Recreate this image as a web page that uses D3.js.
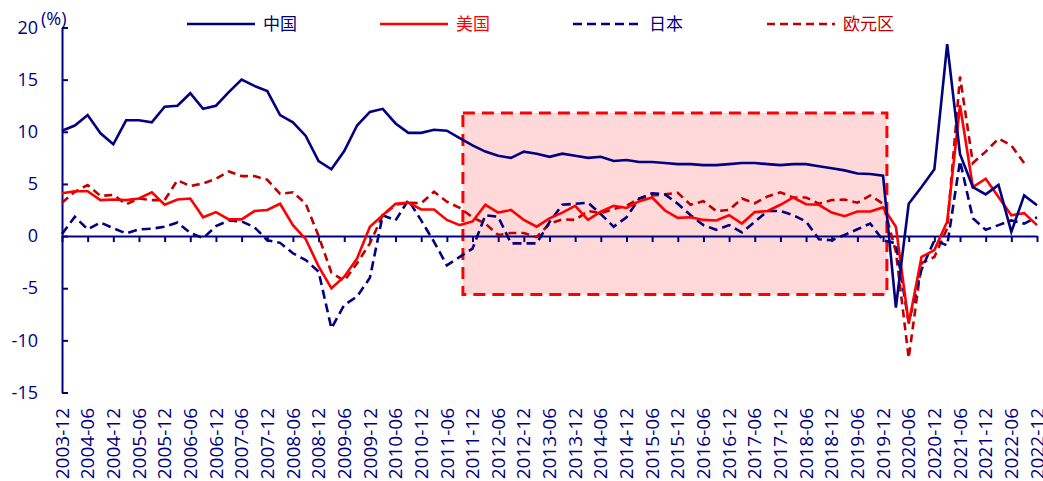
<!DOCTYPE html>
<html lang="zh-CN">
<head>
    <meta charset="utf-8">
    <title>GDP同比</title>
    <script src="https://d3js.org/d3.v7.min.js" charset="utf-8"></script>
    <style type="text/css">
        body {
            margin: 0;
            background-color: #fff;
        }
        text {
            font-family: "Open Sans", "Noto Sans CJK SC", sans-serif;
        }
    </style>
</head>
<body>
    <script type="text/javascript">
        // quarterly data, 2003-12 .. 2022-12
        var quarters = [
            "2003-12",
            "2004-03", "2004-06", "2004-09", "2004-12",
            "2005-03", "2005-06", "2005-09", "2005-12",
            "2006-03", "2006-06", "2006-09", "2006-12",
            "2007-03", "2007-06", "2007-09", "2007-12",
            "2008-03", "2008-06", "2008-09", "2008-12",
            "2009-03", "2009-06", "2009-09", "2009-12",
            "2010-03", "2010-06", "2010-09", "2010-12",
            "2011-03", "2011-06", "2011-09", "2011-12",
            "2012-03", "2012-06", "2012-09", "2012-12",
            "2013-03", "2013-06", "2013-09", "2013-12",
            "2014-03", "2014-06", "2014-09", "2014-12",
            "2015-03", "2015-06", "2015-09", "2015-12",
            "2016-03", "2016-06", "2016-09", "2016-12",
            "2017-03", "2017-06", "2017-09", "2017-12",
            "2018-03", "2018-06", "2018-09", "2018-12",
            "2019-03", "2019-06", "2019-09", "2019-12",
            "2020-03", "2020-06", "2020-09", "2020-12",
            "2021-03", "2021-06", "2021-09", "2021-12",
            "2022-03", "2022-06", "2022-09", "2022-12"
        ];

        var tickLabels = [
            "2003-12", "2004-06", "2004-12", "2005-06", "2005-12", "2006-06", "2006-12",
            "2007-06", "2007-12", "2008-06", "2008-12", "2009-06", "2009-12", "2010-06",
            "2010-12", "2011-06", "2011-12", "2012-06", "2012-12", "2013-06", "2013-12",
            "2014-06", "2014-12", "2015-06", "2015-12", "2016-06", "2016-12", "2017-06",
            "2017-12", "2018-06", "2018-12", "2019-06", "2019-12", "2020-06", "2020-12",
            "2021-06", "2021-12", "2022-06", "2022-12"
        ];

        var yTicks = [20, 15, 10, 5, 0, -5, -10, -15];

        var china = [10.1, 10.6, 11.6, 9.85, 8.8, 11.1, 11.1, 10.9, 12.4, 12.5,
            13.7, 12.2, 12.5, 13.8, 15.0, 14.4, 13.9, 11.6, 10.9, 9.6,
            7.2, 6.4, 8.15, 10.6, 11.9, 12.2, 10.8, 9.9, 9.9, 10.2,
            10.1, 9.4, 8.7, 8.1, 7.7, 7.5, 8.1, 7.9, 7.6, 7.9,
            7.7, 7.5, 7.6, 7.2, 7.3, 7.1, 7.1, 7.0, 6.9, 6.9,
            6.8, 6.8, 6.9, 7.0, 7.0, 6.9, 6.8, 6.9, 6.9, 6.7,
            6.5, 6.3, 6.0, 5.95, 5.8, -6.85, 3.1, 4.7, 6.4, 18.4,
            7.85, 4.7, 4.0, 4.9, 0.4, 3.9, 2.95];

        var usa = [4.1, 4.3, 4.3, 3.45, 3.5, 3.45, 3.6, 4.2, 3.0, 3.5,
            3.6, 1.8, 2.3, 1.6, 1.6, 2.4, 2.5, 3.1, 1.05, -0.3,
            -2.9, -5.0, -3.9, -2.15, 0.9, 2.0, 3.1, 3.2, 2.55, 2.55,
            1.55, 1.05, 1.4, 3.0, 2.25, 2.5, 1.55, 0.9, 1.7, 2.25,
            2.9, 1.55, 2.35, 2.9, 2.7, 3.35, 3.7, 2.45, 1.75, 1.8,
            1.55, 1.5, 2.0, 1.2, 2.3, 2.4, 3.0, 3.7, 3.05, 3.0,
            2.25, 1.9, 2.35, 2.35, 2.75, 0.9, -8.4, -2.0, -1.35, 1.4,
            12.55, 4.7, 5.5, 3.75, 2.0, 2.2, 1.05];

        var japan = [0.2, 1.85, 0.65, 1.3, 0.75, 0.25, 0.65, 0.7, 0.9, 1.3,
            0.3, -0.2, 0.95, 1.5, 1.4, 0.85, -0.4, -0.65, -1.65, -2.3,
            -3.4, -8.85, -6.6, -5.8, -4.0, 2.0, 1.5, 3.45, 1.5, -0.55,
            -2.8, -2.0, -1.2, 2.0, 1.85, -0.7, -0.7, -0.7, 1.35, 3.0,
            3.1, 3.2, 2.1, 0.9, 1.8, 3.6, 4.1, 4.0, 3.1, 2.0,
            1.05, 0.6, 1.05, 0.35, 1.37, 2.4, 2.4, 2.0, 1.4, -0.3,
            -0.4, 0.1, 0.65, 1.2, -0.4, -0.7, -8.3, -3.2, -0.4, -0.9,
            7.2, 1.7, 0.6, 1.05, 1.5, 1.2, 1.8];

        var euro = [3.2, 4.25, 4.9, 3.85, 3.95, 3.05, 3.6, 3.45, 3.45, 5.35,
            4.8, 5.05, 5.5, 6.2, 5.75, 5.75, 5.4, 4.05, 4.2, 3.1,
            0.0, -3.5, -4.3, -2.6, -0.7, 2.0, 3.0, 3.2, 3.15, 4.25,
            3.3, 2.7, 1.8, 1.2, 0.1, 0.3, 0.3, -0.1, 1.2, 1.6,
            1.55, 2.4, 2.2, 2.6, 2.9, 3.6, 3.9, 4.0, 4.15, 3.0,
            3.35, 2.4, 2.5, 3.6, 3.15, 3.8, 4.2, 3.7, 3.7, 3.1,
            3.45, 3.5, 3.2, 3.9, 3.1, -1.5, -11.7, -2.6, -2.0, 0.75,
            15.3, 7.0, 8.1, 9.35, 8.7, 7.0, null];

        var seriesNames = ["中国", "美国", "日本", "欧元区"];

        // shaded period (quarter index) and value band
        var highlightX = [31.25, 64.3];
        var highlightY = [11.8, -5.6];

        var navy = "#000080";
        var width = 1043;
        var height = 481;

        var svg = d3.select("body")
                    .append("svg")
                    .attr("width", width)
                    .attr("height", height);

        var x = d3.scaleLinear()
                  .domain([0, quarters.length - 1])
                  .range([62, 1037]);
        var y = d3.scaleLinear()
                  .domain([-15, 20])
                  .range([392.5, 27.5]);

        // highlighted box
        svg.append("rect")
            .attr("x", x(highlightX[0]))
            .attr("y", y(highlightY[0]))
            .attr("width", x(highlightX[1]) - x(highlightX[0]))
            .attr("height", y(highlightY[1]) - y(highlightY[0]))
            .attr("fill", "#ffd9da")
            .attr("stroke", "#ff0000")
            .attr("stroke-width", 3)
            .attr("stroke-dasharray", "12,7");

        // axes
        var xAxis = svg.append("g")
            .attr("transform", "translate(0," + y(0) + ")")
            .call(d3.axisBottom(x)
                .tickValues(tickLabels.map(function(d) { return quarters.indexOf(d); }))
                .tickFormat("")
                .tickSizeInner(6)
                .tickSizeOuter(0));

        var yAxis = svg.append("g")
            .attr("transform", "translate(" + x(0) + ",0)")
            .call(d3.axisLeft(y)
                .tickValues(yTicks)
                .tickFormat(function(d) { return String(d); })
                .tickSizeInner(-6)
                .tickSizeOuter(0)
                .tickPadding(24));

        svg.selectAll(".domain, .tick line")
            .attr("stroke", navy)
            .attr("stroke-width", 2);
        yAxis.selectAll("text")
            .attr("fill", navy)
            .attr("font-size", "18px")
            .attr("font-family", null);

        svg.selectAll(".xlabel")
            .data(tickLabels)
            .enter()
            .append("text")
            .attr("class", "xlabel")
            .attr("transform", function(d) {
                return "translate(" + x(quarters.indexOf(d)) + ",408) rotate(-90)";
            })
            .attr("text-anchor", "end")
            .attr("dy", "0.35em")
            .attr("fill", navy)
            .attr("font-size", "19px")
            .text(function(d) { return d; });

        svg.append("text")
            .attr("x", 41)
            .attr("y", 25)
            .attr("fill", navy)
            .attr("font-size", "18px")
            .text("(%)");

        // lines
        var series = [
            { name: seriesNames[0], values: china, color: navy, dash: null },
            { name: seriesNames[1], values: usa, color: "#ff0000", dash: null },
            { name: seriesNames[2], values: japan, color: navy, dash: "9,5" },
            { name: seriesNames[3], values: euro, color: "#c00000", dash: "8,5" }
        ];

        var line = d3.line()
            .defined(function(d) { return d !== null; })
            .x(function(d, i) { return x(i); })
            .y(function(d) { return y(d); });

        // draw order: dashed below solid
        [3, 2, 1, 0].forEach(function(k) {
            var s = series[k];
            svg.append("path")
                .datum(s.values)
                .attr("d", line)
                .attr("fill", "none")
                .attr("stroke", s.color)
                .attr("stroke-width", 2.6)
                .attr("stroke-dasharray", s.dash);
        });

        // legend
        var legendX = [187, 380, 573, 767];
        var legend = svg.selectAll(".legend")
            .data(series)
            .enter()
            .append("g")
            .attr("class", "legend")
            .attr("transform", function(d, i) {
                return "translate(" + legendX[i] + ",24)";
            });

        legend.append("line")
            .attr("x1", 0)
            .attr("x2", 68)
            .attr("stroke", function(d) { return d.color; })
            .attr("stroke-width", 2.6)
            .attr("stroke-dasharray", function(d) { return d.dash; });

        legend.append("text")
            .attr("x", 76)
            .attr("dy", "0.35em")
            .attr("fill", function(d) { return d.color; })
            .attr("font-size", "17px")
            .text(function(d) { return d.name; });
    </script>
</body>
</html>
